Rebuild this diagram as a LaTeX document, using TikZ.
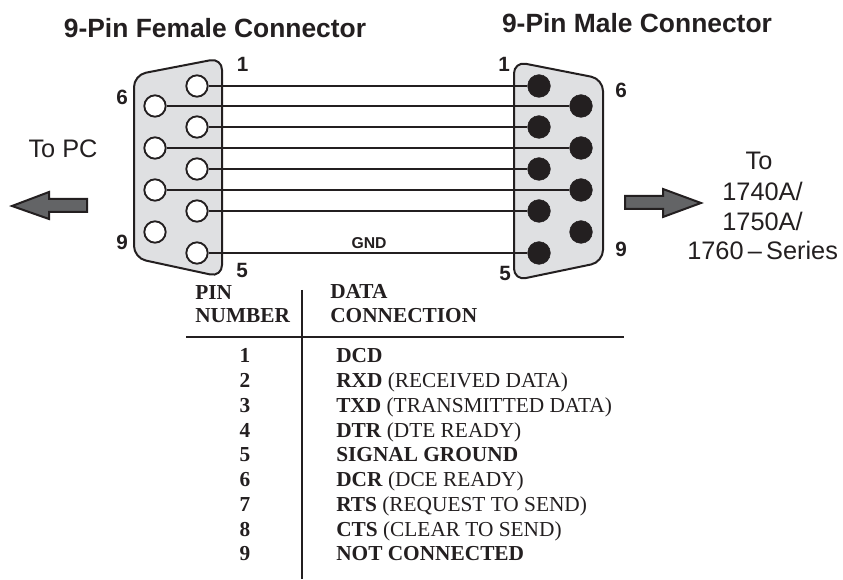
\documentclass[tikz,border=0pt]{standalone}
\usepackage{fontspec}
\setmainfont{Liberation Sans}
\newfontfamily\tabfont{Liberation Serif}
\definecolor{ink}{HTML}{231F20}
\definecolor{shell}{HTML}{DFE0E2}
\definecolor{arrowgray}{HTML}{636466}
\tikzset{
  x=0.75pt,y=-0.75pt,
  shellbox/.style={draw=ink,fill=shell,line width=1.5pt,rounded corners=9pt,line join=round},
  fempin/.style={circle,draw=ink,fill=white,line width=1.4pt,minimum size=16pt,inner sep=0pt},
  malepin/.style={circle,draw=ink,fill=ink,line width=0.4pt,minimum size=17pt,inner sep=0pt},
  wire/.style={draw=ink,line width=1.4pt},
  rule/.style={draw=ink,line width=1.3pt},
  title/.style={font=\fontsize{19.8}{23}\bfseries,text=ink,inner sep=0pt},
  pinlabel/.style={font=\fontsize{15.5}{18}\bfseries,text=ink,inner sep=0pt},
  plain/.style={font=\fontsize{19}{22}\selectfont,text=ink,inner sep=0pt,anchor=base},
  fatarrow/.style={draw=ink,fill=arrowgray,line width=1.5pt,line join=miter},
  tabhead/.style={font=\tabfont\fontsize{16}{19}\bfseries,text=ink,inner sep=0pt,anchor=base west},
  tabnum/.style={font=\tabfont\fontsize{16}{19}\bfseries,text=ink,inner sep=0pt,anchor=base},
  tabtext/.style={font=\tabfont\fontsize{16}{19}\selectfont,text=ink,inner sep=0pt,anchor=base west},
}
\begin{document}
\begin{tikzpicture}
\useasboundingbox (0,0) rectangle (843,580);
% shells
\path[shellbox] (134,75) -- (222,58) -- (222,277) -- (134,258) -- cycle;
\path[shellbox] (514,61.5) -- (603,79) -- (603,262) -- (514,280.5) -- cycle;
% female pins
\foreach \n/\px/\py in {f1/197/86,f2/197/127,f3/197/169,f4/197/211,f5/197/253,f6/155/106,f7/155/148,f8/155/190,f9/155/232}
  \node[fempin] (\n) at (\px,\py) {};
% male pins
\foreach \n/\px/\py in {m1/539/86,m2/539/127,m3/539/169,m4/539/211,m5/539/253,m6/581/106,m7/581/148,m8/581/190,m9/581/232}
  \node[malepin] (\n) at (\px,\py) {};
% wires
\foreach \k in {1,2,3,4,5,6,7,8}
  \draw[wire] (f\k) -- (m\k);
\node[font=\fontsize{11.8}{14}\bfseries,text=ink,inner sep=0pt] (gnd) at (369,243) {GND};
% titles
\node[title] (tf) at (215,28) {9-Pin Female Connector};
\node[title] (tm) at (637,23) {9-Pin Male Connector};
% pin labels
\node[pinlabel] (l1) at (242.5,64.5) {1};
\node[pinlabel] (l6) at (122,97.5) {6};
\node[pinlabel] (l9) at (122,242.5) {9};
\node[pinlabel] (l5) at (242,270.5) {5};
\node[pinlabel] (r1) at (504,64.5) {1};
\node[pinlabel] (r6) at (621,90.5) {6};
\node[pinlabel] (r9) at (621,249.5) {9};
\node[pinlabel] (r5) at (505,273.5) {5};
% side text
\node[plain] (pc) at (63,158) {To PC};
\node[plain] (to1) at (759,170) {To};
\node[plain] (to2) at (762.5,200.5) {1740A/};
\node[plain] (to3) at (762.5,230.5) {1750A/};
\node[plain,anchor=base west] (to4) at (687,259.5) {1760\,–\,Series};
% arrows
\draw[fatarrow] (12,206) -- (49,192) -- (49,199) -- (87,199) -- (87,212) -- (49,212) -- (49,219) -- cycle;
\draw[fatarrow] (701,203) -- (663,189) -- (663,196) -- (625,196) -- (625,209) -- (663,209) -- (663,217) -- cycle;
% table rules
\coordinate (vt) at (302,290); \coordinate (vb) at (302,579);
\coordinate (hl) at (186,337); \coordinate (hr) at (624,337);
\draw[rule] (vt) -- (vb);
\draw[rule] (hl) -- (hr);
% table head
\node[tabhead] (h1) at (195,300) {PIN};
\node[tabhead] (h2) at (195,323) {NUMBER};
\node[tabhead] (h3) at (330,299) {DATA};
\node[tabhead] (h4) at (330,323) {CONNECTION};
% table rows
\foreach \i/\a/\b [evaluate=\i as \yy using 363+24.75*(\i-1)] in {1/DCD/,2/RXD/ (RECEIVED DATA),3/TXD/ (TRANSMITTED DATA),4/DTR/ (DTE READY),5/SIGNAL GROUND/,6/DCR/ (DCE READY),7/RTS/ (REQUEST TO SEND),8/CTS/ (CLEAR TO SEND),9/NOT CONNECTED/}{
  \node[tabnum] (n\i) at (245,\yy) {\i};
  \node[tabtext] (t\i) at (336,\yy) {\textbf{\a}\b};
}
\end{tikzpicture}
\end{document}
